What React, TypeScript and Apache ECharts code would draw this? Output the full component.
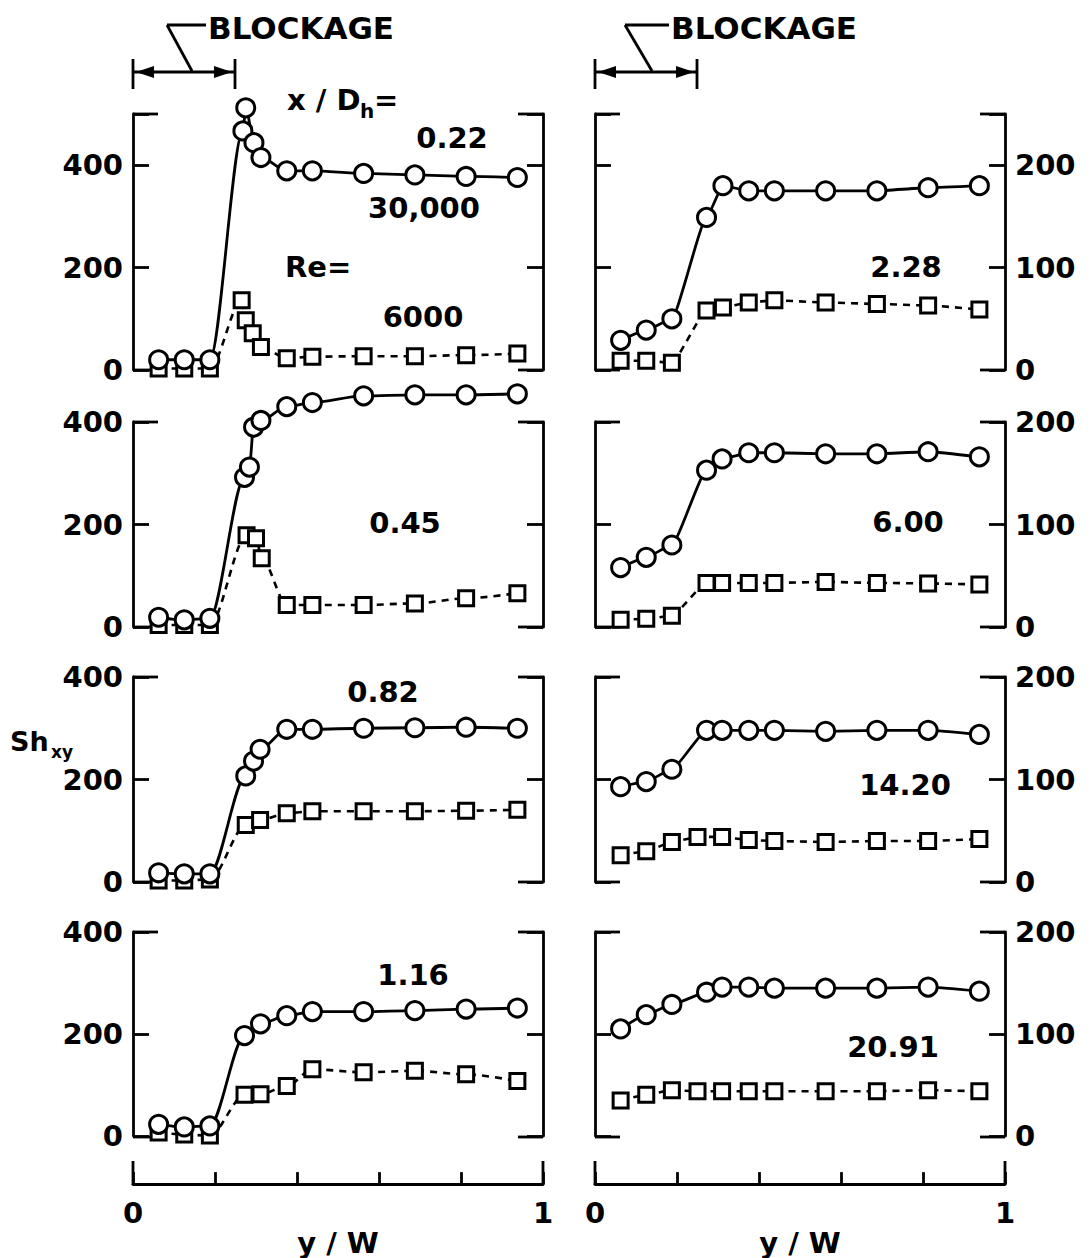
import React, { useEffect, useRef } from "react";
import * as echarts from "echarts";

// ---------- data (y/W, Sh_xy) ----------
// circles: Re = 30,000 ; squares: Re = 6000
const c022 = [[0.0625, 20], [0.125, 20], [0.1875, 20], [0.268, 467], [0.275, 512], [0.295, 444], [0.312, 415], [0.375, 389], [0.4375, 389], [0.5625, 384], [0.6875, 381], [0.8125, 378], [0.9375, 376]];
const s022 = [[0.0625, 3], [0.125, 3], [0.1875, 3], [0.265, 136], [0.275, 97], [0.292, 72], [0.312, 45], [0.375, 23], [0.4375, 26], [0.5625, 27], [0.6875, 27], [0.8125, 29], [0.9375, 32]];
const c045 = [[0.0625, 19], [0.125, 14], [0.1875, 17], [0.272, 292], [0.284, 312], [0.294, 390], [0.312, 403], [0.375, 430], [0.4375, 438], [0.5625, 451], [0.6875, 453], [0.8125, 453], [0.9375, 455]];
const s045 = [[0.0625, 4], [0.125, 4], [0.1875, 4], [0.277, 179], [0.3, 173], [0.314, 134], [0.375, 43], [0.4375, 43], [0.5625, 43], [0.6875, 46], [0.8125, 56], [0.9375, 66]];
const c082 = [[0.0625, 18], [0.125, 16], [0.1875, 16], [0.275, 207], [0.294, 236], [0.31, 259], [0.375, 298], [0.4375, 298], [0.5625, 300], [0.6875, 301], [0.8125, 302], [0.9375, 300]];
const s082 = [[0.0625, 3], [0.125, 3], [0.1875, 5], [0.275, 111], [0.31, 121], [0.375, 134], [0.4375, 138], [0.5625, 138], [0.6875, 138], [0.8125, 139], [0.9375, 141]];
const c116 = [[0.0625, 23], [0.125, 18], [0.1875, 20], [0.272, 197], [0.311, 220], [0.375, 236], [0.4375, 244], [0.5625, 244], [0.6875, 246], [0.8125, 249], [0.9375, 251]];
const s116 = [[0.0625, 7], [0.125, 3], [0.1875, 1], [0.272, 81], [0.311, 82], [0.375, 98], [0.4375, 131], [0.5625, 125], [0.6875, 128], [0.8125, 121], [0.9375, 108]];
const c228 = [[0.0625, 29], [0.125, 39], [0.1875, 50], [0.272, 149], [0.312, 180], [0.375, 175], [0.4375, 175], [0.5625, 175], [0.6875, 175], [0.8125, 178], [0.9375, 180]];
const s228 = [[0.0625, 9], [0.125, 9], [0.1875, 7], [0.272, 58], [0.312, 61], [0.375, 66], [0.4375, 68], [0.5625, 66], [0.6875, 64.5], [0.8125, 63], [0.9375, 59]];
const c600 = [[0.0625, 58], [0.125, 68], [0.1875, 80], [0.272, 153], [0.31, 164], [0.375, 170], [0.4375, 170], [0.5625, 169], [0.6875, 169], [0.8125, 171], [0.9375, 166]];
const s600 = [[0.0625, 7], [0.125, 8], [0.1875, 11], [0.272, 43], [0.31, 43], [0.375, 43], [0.4375, 43], [0.5625, 44], [0.6875, 43], [0.8125, 42.5], [0.9375, 41.5]];
const c1420 = [[0.0625, 93], [0.125, 98], [0.1875, 110], [0.272, 148], [0.31, 148], [0.375, 148], [0.4375, 148], [0.5625, 147], [0.6875, 148], [0.8125, 148], [0.9375, 144]];
const s1420 = [[0.0625, 26], [0.125, 30], [0.1875, 39], [0.25, 44], [0.31, 44], [0.375, 41], [0.4375, 40], [0.5625, 39], [0.6875, 40], [0.8125, 40], [0.9375, 42]];
const c2091 = [[0.0625, 105], [0.125, 119], [0.1875, 129], [0.272, 141], [0.31, 146], [0.375, 146], [0.4375, 145], [0.5625, 145], [0.6875, 145], [0.8125, 146], [0.9375, 142]];
const s2091 = [[0.0625, 35], [0.125, 40.5], [0.1875, 45], [0.25, 44], [0.31, 44], [0.375, 44], [0.4375, 44], [0.5625, 44], [0.6875, 44], [0.8125, 45], [0.9375, 44]];

// panels listed column by column (left column top->bottom, then right column)
const xDhLabels = ["0.22", "0.45", "0.82", "1.16", "2.28", "6.00", "14.20", "20.91"];
const circleSets = [c022, c045, c082, c116, c228, c600, c1420, c2091];
const squareSets = [s022, s045, s082, s116, s228, s600, s1420, s2091];
const leftTickLabels = [0, 200, 400];
const rightTickLabels = [0, 100, 200];
const xTickLabels = [0, 1];
const leftMax = [500, 400, 400, 400];
const rightMax = [250, 200, 200, 200];

// ---------- layout ----------
const FONT = '"DejaVu Sans", sans-serif';
const FW = "bold";
const FS = 29;
const COLX = [133, 595];
const PW = 410;
const ROWS = [
  { top: 114, h: 256 },
  { top: 422, h: 205 },
  { top: 677, h: 205 },
  { top: 932, h: 205 },
];
const BOTTOM_AXIS_OFFSET = 48;
const LW = 2.8;
// x/Dh label centers, column by column
const labelPos = [
  [452, 138], [405, 523], [383, 692], [413, 975],
  [906, 267], [908, 522], [905, 785], [893, 1047],
];

function txt(text: string, x: number, y: number, size = FS, align = "center") {
  return {
    type: "text",
    x,
    y,
    silent: true,
    style: { text, fill: "#000", font: `${FW} ${size}px ${FONT}`, align, verticalAlign: "middle" },
  };
}
function ln(x1: number, y1: number, x2: number, y2: number, w = LW) {
  return {
    type: "line",
    silent: true,
    shape: { x1, y1, x2, y2 },
    style: { stroke: "#000", lineWidth: w, lineCap: "butt" },
  };
}
function tri(points: number[][]) {
  return { type: "polygon", silent: true, shape: { points }, style: { fill: "#000" } };
}

function buildOption() {
  const grid: any[] = [];
  const xAxis: any[] = [];
  const yAxis: any[] = [];
  const series: any[] = [];
  const graphic: any[] = [];

  for (let row = 0; row < 4; row++) {
    for (let col = 0; col < 2; col++) {
      const i = row * 2 + col;
      const d = col * 4 + row;
      const left = COLX[col];
      const { top, h } = ROWS[row];
      grid.push({ left, top, width: PW, height: h, containLabel: false });
      const isBottom = row === 3;
      xAxis.push({
        gridIndex: i,
        type: "value",
        min: 0,
        max: 1,
        interval: 0.2,
        show: isBottom,
        position: "bottom",
        offset: BOTTOM_AXIS_OFFSET,
        axisLine: { show: true, onZero: false, lineStyle: { color: "#000", width: LW } },
        axisTick: { show: true, inside: true, length: 12, lineStyle: { color: "#000", width: LW } },
        axisLabel: {
          show: true,
          margin: 14,
          fontSize: FS,
          fontWeight: FW,
          fontFamily: FONT,
          color: "#000",
          formatter: (v: number) => (xTickLabels.some((t) => Math.abs(t - v) < 1e-6) ? String(Math.round(v)) : ""),
        },
        splitLine: { show: false },
        name: "y / W",
        nameLocation: "middle",
        nameGap: 37,
        nameTextStyle: { fontSize: FS, fontWeight: FW, fontFamily: FONT, color: "#000" },
      });
      const max = col === 0 ? leftMax[row] : rightMax[row];
      const interval = col === 0 ? 200 : 100;
      const labels = col === 0 ? leftTickLabels : rightTickLabels;
      for (const side of ["left", "right"]) {
        const labeled = (col === 0 && side === "left") || (col === 1 && side === "right");
        yAxis.push({
          gridIndex: i,
          type: "value",
          min: 0,
          max,
          interval,
          position: side,
          axisLine: { show: true, onZero: false, lineStyle: { color: "#000", width: LW } },
          axisTick: { show: true, inside: true, length: 16, lineStyle: { color: "#000", width: LW } },
          axisLabel: {
            show: labeled,
            margin: 10,
            fontSize: FS,
            fontWeight: FW,
            fontFamily: FONT,
            color: "#000",
            showMaxLabel: true,
            formatter: (v: number) => (labels.indexOf(v) >= 0 ? String(v) : ""),
          },
          splitLine: { show: false },
        });
      }
      const lineCommon = {
        type: "line",
        xAxisIndex: i,
        yAxisIndex: 2 * i,
        clip: false,
        smooth: col === 0 ? 0.3 : 0.15,
        smoothMonotone: "x",
        showAllSymbol: true,
      };
      series.push({
        ...lineCommon,
        name: "Re = 6000",
        data: squareSets[d],
        symbol: "rect",
        symbolSize: 15,
        lineStyle: { color: "#000", width: 2.6, type: [7, 6] },
        itemStyle: { color: "#fff", borderColor: "#000", borderWidth: 3 },
        z: 2,
      });
      series.push({
        ...lineCommon,
        name: "Re = 30,000",
        data: circleSets[d],
        symbol: "circle",
        symbolSize: 18,
        lineStyle: { color: "#000", width: 2.8, type: "solid" },
        itemStyle: { color: "#fff", borderColor: "#000", borderWidth: 3 },
        z: 3,
      });

      // frame corner stubs
      const right = left + PW;
      const bottom = top + h;
      graphic.push(ln(left, top, left + 25, top));
      graphic.push(ln(left, bottom, left + 25, bottom));
      graphic.push(ln(right - 25, top, right, top));
      graphic.push(ln(right - 25, bottom, right, bottom));

      // x/Dh label
      graphic.push(txt(xDhLabels[d], labelPos[d][0], labelPos[d][1]));
    }
  }

  // bottom axis end ticks
  const axisY = ROWS[3].top + ROWS[3].h + BOTTOM_AXIS_OFFSET;
  for (const l of COLX) {
    graphic.push(ln(l, axisY - 24, l, axisY));
    graphic.push(ln(l + PW, axisY - 24, l + PW, axisY));
  }

  // BLOCKAGE annotations
  const blk = [
    { x0: 133, x1: 235, lx: 167, tx: 208, dx: 192 },
    { x0: 595, x1: 697, lx: 625, tx: 671, dx: 652 },
  ];
  for (const b of blk) {
    graphic.push(txt("BLOCKAGE", b.tx, 28, 31, "left"));
    graphic.push(ln(b.lx, 25, b.tx - 2, 25));
    graphic.push(ln(b.lx, 25, b.dx, 71));
    graphic.push(ln(b.x0, 59, b.x0, 89));
    graphic.push(ln(b.x1, 59, b.x1, 89));
    graphic.push(ln(b.x0, 72, b.x1, 72));
    graphic.push(tri([[b.x0 + 3, 72], [b.x0 + 21, 66], [b.x0 + 21, 78]]));
    graphic.push(tri([[b.x1 - 3, 72], [b.x1 - 21, 66], [b.x1 - 21, 78]]));
  }

  // annotations in first panel
  graphic.push(txt("x / D", 287, 100, FS, "left"));
  graphic.push(txt("h", 360, 111, 20, "left"));
  graphic.push(txt("=", 374, 100, FS, "left"));
  graphic.push(txt("30,000", 424, 208));
  graphic.push(txt("Re=", 285, 267, FS, "left"));
  graphic.push(txt("6000", 423, 317));

  // y axis name
  graphic.push(txt("Sh", 10, 741, 27, "left"));
  graphic.push(txt("xy", 51, 752, 17, "left"));

  return {
    animation: false,
    backgroundColor: "#fff",
    grid,
    xAxis,
    yAxis,
    series,
    graphic,
  };
}

export default function App() {
  const ref = useRef<HTMLDivElement>(null);
  useEffect(() => {
    const chart = echarts.init(ref.current!, null, { renderer: "svg" });
    chart.setOption(buildOption() as any);
    return () => chart.dispose();
  }, []);
  return (
    <div
      ref={ref}
      style={{ position: "absolute", left: 0, top: 0, width: 1092, height: 1258, background: "#fff" }}
    />
  );
}
